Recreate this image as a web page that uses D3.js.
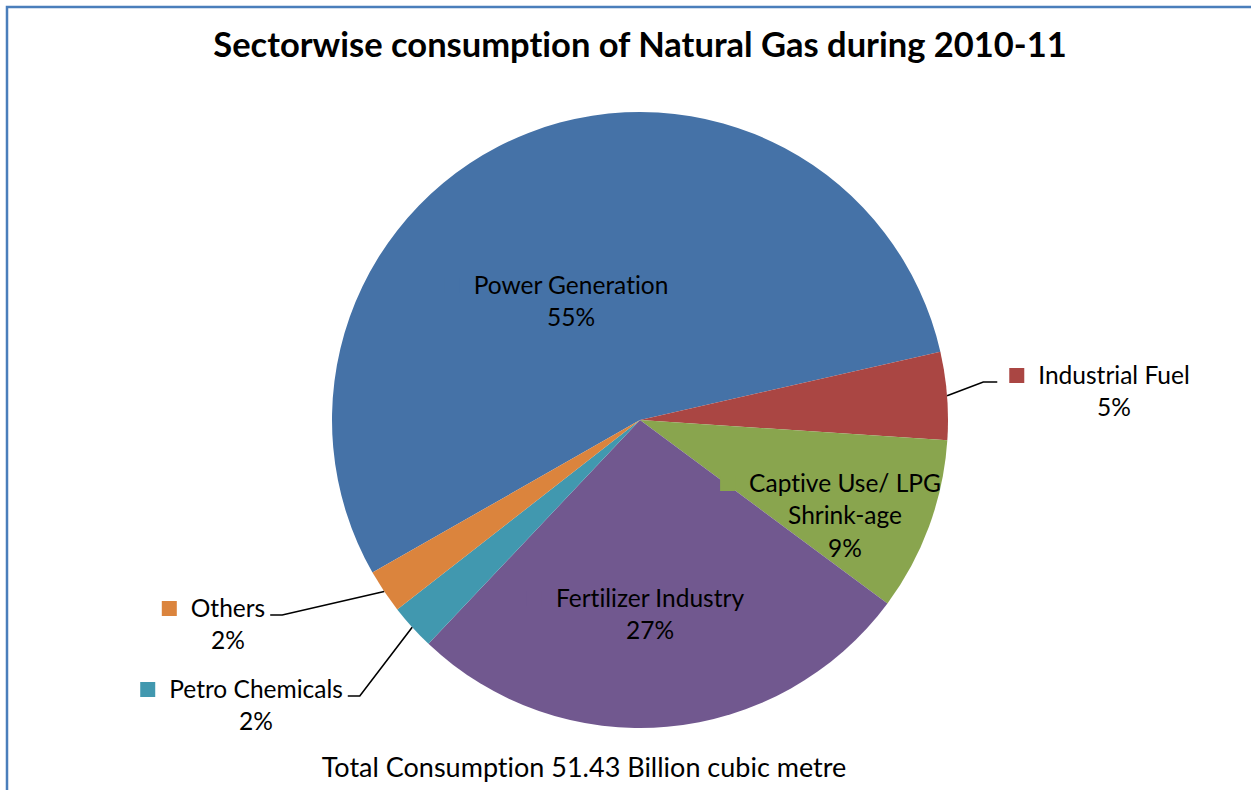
<!DOCTYPE html>
<html>
<head>
<meta charset="utf-8">
<script src="https://cdn.jsdelivr.net/npm/d3@7"></script>
<style>
  body { margin: 0; background: #fff; }
  text { font-family: Lato, "Open Sans", sans-serif; fill: #000; font-variant-ligatures: none; }
</style>
</head>
<body>
<div id="chart"></div>
<script>
// sectors in drawing order (clockwise from the first slice)
const SECTORS = ["Power Generation", "Industrial Fuel", "Captive Use/ LPG Shrink-age",
  "Fertilizer Industry", "Petro Chemicals", "Others"];
const SHARES = [54.7, 4.6, 9.1, 26.9, 2.4, 2.3];          // % of total consumption
const PCT_LABELS = ["55%", "5%", "9%", "27%", "2%", "2%"];
const LABEL_LINES = [["Power Generation"], ["Industrial Fuel"], ["Captive Use/ LPG", "Shrink-age"],
  ["Fertilizer Industry"], ["Petro Chemicals"], ["Others"]];
const COLORS = ["#4572A7", "#AA4643", "#89A54E", "#71588F", "#4198AF", "#DB843D"];
const TITLE = "Sectorwise consumption of Natural Gas during 2010-11";
const NOTE = "Total Consumption 51.43 Billion cubic metre";

const W = 1251, H = 790;
const cx = 640, cy = 420, R = 308;
const firstSliceAngle = 240.3; // degrees
const lineH = 32.5;

// label anchor offsets from pie centre (centre of text, first line) and leader flag
const labelLayout = [
  { dx: -69, dy: -135, leader: false },
  { dx: 474, dy: -45, leader: true, side: "right" },
  { dx: 205, dy: 63, leader: false },
  { dx: 10, dy: 178, leader: false },
  { dx: -384, dy: 269, leader: true, side: "left" },
  { dx: -412, dy: 188, leader: true, side: "left" }
];

const svg = d3.select("#chart").append("svg")
  .attr("width", W).attr("height", H);

svg.append("rect")
  .attr("x", 0).attr("y", 0).attr("width", W).attr("height", H)
  .attr("fill", "#fff");

// chart area border
svg.append("path")
  .attr("d", `M7,${H + 10} L7,7 L${W + 10},7`)
  .attr("fill", "none")
  .attr("stroke", "#4A7EBB")
  .attr("stroke-width", 2.5);

svg.append("text")
  .attr("x", 640).attr("y", 57)
  .attr("text-anchor", "middle")
  .style("font-weight", "bold")
  .style("font-size", "34.5px")
  .text(TITLE);

const data = SECTORS.map((s, i) => ({ name: s, value: SHARES[i], i: i }));

const pie = d3.pie()
  .sort(null)
  .value(d => d.value)
  .startAngle(firstSliceAngle * Math.PI / 180)
  .endAngle(firstSliceAngle * Math.PI / 180 + 2 * Math.PI);

const arcs = pie(data);
const arc = d3.arc().innerRadius(0).outerRadius(R);
const edgeArc = d3.arc().innerRadius(R).outerRadius(R);

const g = svg.append("g").attr("transform", `translate(${cx},${cy})`);

g.selectAll("path.slice")
  .data(arcs)
  .enter()
  .append("path")
  .attr("class", "slice")
  .attr("d", arc)
  .attr("fill", (d) => COLORS[d.data.i]);

// labels
const labels = g.selectAll("g.label")
  .data(arcs)
  .enter()
  .append("g")
  .attr("class", "label")
  .attr("transform", (d) => {
    const L = labelLayout[d.data.i];
    return `translate(${L.dx},${L.dy})`;
  });

labels.each(function (d) {
  const sel = d3.select(this);
  const lines = LABEL_LINES[d.data.i].concat([PCT_LABELS[d.data.i]]);
  sel.selectAll("text")
    .data(lines)
    .enter()
    .append("text")
    .attr("x", 0)
    .attr("y", (t, k) => k * lineH)
    .attr("dy", "0.35em")
    .attr("text-anchor", "middle")
    .style("font-size", "24.5px")
    .text((t) => t);

  // legend key before the first line
  const first = sel.select("text").node();
  const w = first.getComputedTextLength();
  sel.insert("rect", "text")
    .attr("x", -w / 2 - 29)
    .attr("y", -7)
    .attr("width", 15)
    .attr("height", 15)
    .attr("fill", COLORS[d.data.i]);

  const L = labelLayout[d.data.i];
  if (L.leader) {
    const p = edgeArc.centroid(d);
    const ey = L.dy + 7;
    const ex = L.side === "right" ? L.dx - w / 2 - 41 : L.dx + w / 2 + 5;
    const mx = L.side === "right" ? ex - 14 : ex + 12;
    g.append("path")
      .attr("d", `M${p[0]},${p[1]} L${mx},${ey} L${ex},${ey}`)
      .attr("fill", "none")
      .attr("stroke", "#000")
      .attr("stroke-width", 1.6);
  }
});

svg.append("text")
  .attr("x", 584).attr("y", 768)
  .attr("dy", "0.35em")
  .attr("text-anchor", "middle")
  .style("font-size", "27px")
  .text(NOTE);
</script>
</body>
</html>
